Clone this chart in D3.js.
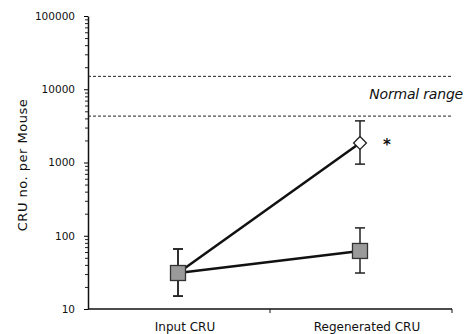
<!DOCTYPE html>
<html>
<head>
<meta charset="utf-8">
<script src="https://cdn.jsdelivr.net/npm/d3@7"></script>
<style>
  body { margin: 0; background: #fff; }
  svg text { font-family: "DejaVu Sans", sans-serif; fill: #111; }
</style>
</head>
<body>
<div id="chart"></div>
<script>
// Data
var categories = ["Input CRU", "Regenerated CRU"];
var yTickValues = [10, 100, 1000, 10000, 100000];
var normalRange = [4300, 15000];

// diamond series (rises to normal range)
var diamondMean = [31, 1850];
var diamondLow = [15, 950];
var diamondHigh = [66, 3700];

// square series
var squareMean = [31, 62];
var squareLow = [15, 31];
var squareHigh = [66, 128];

var svgWidth = 467;
var svgHeight = 334;

var svg = d3.select("#chart")
  .append("svg")
  .attr("width", svgWidth)
  .attr("height", svgHeight);

var x = d3.scaleBand()
  .domain(categories)
  .range([88, 452]);

var y = d3.scaleLog()
  .domain([10, 100000])
  .range([309, 16]);

var xMid = d => x(d) + x.bandwidth() / 2 - 1;

// minor log ticks
var minorTicks = y.ticks().filter(v => yTickValues.indexOf(v) < 0);

svg.append("g")
  .attr("transform", "translate(88,0)")
  .call(d3.axisLeft(y).tickValues(minorTicks).tickSize(3).tickFormat(""))
  .call(g => g.select(".domain").remove())
  .selectAll("line").attr("stroke", "#222");

// y axis
var yAxis = svg.append("g")
  .attr("transform", "translate(88,0)")
  .call(d3.axisLeft(y).tickValues(yTickValues).tickSize(4).tickSizeOuter(0).tickFormat(d3.format("d")));
yAxis.select(".domain").attr("stroke", "#111").attr("stroke-width", 1.5);
yAxis.selectAll("text").attr("font-size", "10.5px").attr("dx", "-6");

// x axis: line with ticks at the band edges
svg.append("line")
  .attr("x1", 88).attr("x2", 452)
  .attr("y1", y(10)).attr("y2", y(10))
  .attr("stroke", "#111").attr("stroke-width", 1.5);

var edges = [x(categories[0]) + x.bandwidth(), x.range()[1]];
svg.selectAll(".xedge")
  .data(edges)
  .enter()
  .append("line")
  .attr("x1", d => d).attr("x2", d => d)
  .attr("y1", y(10)).attr("y2", y(10) + 4)
  .attr("stroke", "#111");

svg.selectAll(".xlabel")
  .data(categories)
  .enter()
  .append("text")
  .attr("x", d => x(d) + x.bandwidth() / 2 + 6)
  .attr("y", 331)
  .attr("text-anchor", "middle")
  .attr("font-size", "12px")
  .text(d => d);

// y axis label
svg.append("text")
  .attr("transform", "translate(27,165) rotate(-90)")
  .attr("text-anchor", "middle")
  .attr("font-family", "Liberation Sans, sans-serif")
  .attr("font-size", "13px")
  .attr("letter-spacing", "0.5px")
  .text("CRU no. per Mouse");

// normal range dashed lines
svg.selectAll(".normal")
  .data(normalRange)
  .enter()
  .append("line")
  .attr("x1", 88).attr("x2", 452)
  .attr("y1", d => y(d)).attr("y2", d => y(d))
  .attr("stroke", "#222")
  .attr("stroke-width", 1)
  .attr("stroke-dasharray", "3,2");

svg.append("text")
  .attr("x", 463)
  .attr("y", 99)
  .attr("text-anchor", "end")
  .attr("font-size", "14px")
  .attr("font-style", "italic")
  .attr("letter-spacing", "-0.2px")
  .text("Normal range");

// connecting lines
var line = d3.line()
  .x((d, i) => xMid(categories[i]))
  .y(d => y(d));

svg.append("path")
  .datum(diamondMean)
  .attr("d", line)
  .attr("fill", "none")
  .attr("stroke", "#111")
  .attr("stroke-width", 2.5);

svg.append("path")
  .datum(squareMean)
  .attr("d", line)
  .attr("fill", "none")
  .attr("stroke", "#111")
  .attr("stroke-width", 2.5);

// error bars
function errorBars(lo, hi) {
  var g = svg.append("g").attr("stroke", "#222").attr("stroke-width", 1.5);
  categories.forEach(function(c, i) {
    var cx = xMid(c);
    g.append("line").attr("x1", cx).attr("x2", cx).attr("y1", y(lo[i])).attr("y2", y(hi[i]));
    g.append("line").attr("x1", cx - 5).attr("x2", cx + 5).attr("y1", y(lo[i])).attr("y2", y(lo[i]));
    g.append("line").attr("x1", cx - 5).attr("x2", cx + 5).attr("y1", y(hi[i])).attr("y2", y(hi[i]));
  });
}
errorBars(diamondLow, diamondHigh);
errorBars(squareLow, squareHigh);

// diamond marker (only the second one is visible; first hidden by square)
svg.selectAll(".diamond")
  .data(diamondMean)
  .enter()
  .append("path")
  .attr("d", d3.symbol().type(d3.symbolDiamond2).size(105))
  .attr("transform", (d, i) => `translate(${xMid(categories[i])},${y(d)})`)
  .attr("fill", "#fff")
  .attr("stroke", "#222")
  .attr("stroke-width", 1.3);

// square markers
svg.selectAll(".square")
  .data(squareMean)
  .enter()
  .append("rect")
  .attr("x", (d, i) => xMid(categories[i]) - 7.5)
  .attr("y", d => y(d) - 7.5)
  .attr("width", 15)
  .attr("height", 15)
  .attr("fill", "#9a9a9a")
  .attr("stroke", "#333")
  .attr("stroke-width", 1.3);

// significance mark
svg.append("text")
  .attr("x", xMid(categories[1]) + 27)
  .attr("y", y(diamondMean[1]) + 7)
  .attr("text-anchor", "middle")
  .attr("font-size", "15px")
  .attr("font-weight", "bold")
  .text("*");
</script>
</body>
</html>
